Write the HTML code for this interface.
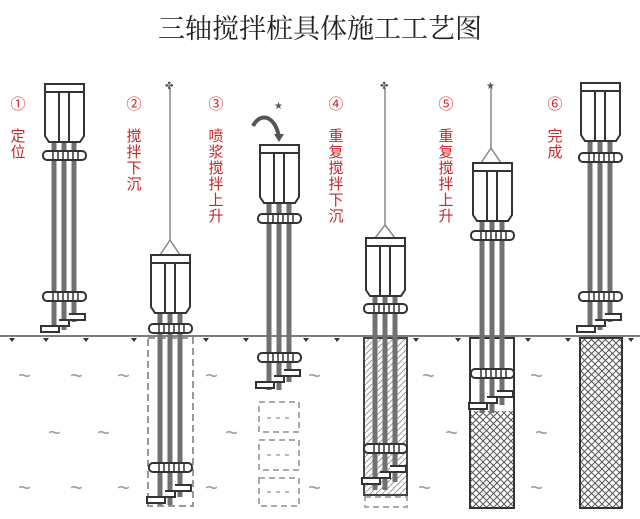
<!DOCTYPE html>
<html><head><meta charset="utf-8"><style>
html,body{margin:0;padding:0;background:#fff;width:640px;height:519px;overflow:hidden}
</style></head><body>
<svg width="640" height="519" viewBox="0 0 640 519" xmlns="http://www.w3.org/2000/svg">
<defs>
<pattern id="xh" width="7" height="7" patternUnits="userSpaceOnUse">
<path d="M0,0 L7,7 M7,0 L0,7" stroke="#555" stroke-width="1"/>
</pattern>
<pattern id="hh" width="6" height="6" patternUnits="userSpaceOnUse">
<path d="M0,6 L6,0" stroke="#999" stroke-width="1"/>
</pattern>
<g id="head">
<path d="M0,8 L0,52 L4,58 L35,58 L39,52 L39,8 Z" fill="#fff" stroke="#333" stroke-width="2"/>
<rect x="0" y="0" width="39" height="8" fill="#fff" stroke="#333" stroke-width="2"/>
<line x1="14" y1="8" x2="14" y2="58" stroke="#333" stroke-width="2"/>
<line x1="24" y1="8" x2="24" y2="58" stroke="#333" stroke-width="2"/>
</g>
<g id="clamp">
<rect x="-2" y="-4" width="43" height="9" rx="4" fill="#fff" stroke="#333" stroke-width="2"/>
<path d="M8,-4 V5 M13,-4 V5 M18,-4 V5 M23,-4 V5 M28,-4 V5 M33,-4 V5" stroke="#333" stroke-width="1.5"/>
</g>
<g id="bits">
<path d="M-4,30 H14 V36 H-4 Z M14,24 H24 V30 H14 M24,18 H40 V24 H24" fill="#fff" stroke="#333" stroke-width="2"/>
</g>
</defs>

<text x="320" y="38" text-anchor="middle" font-family="'Noto Serif CJK SC','Liberation Serif',serif" font-size="27" fill="#222">三轴搅拌桩具体施工工艺图</text>

<line x1="0" y1="336" x2="640" y2="336" stroke="#555" stroke-width="1.5"/>
<g fill="#333">
<path d="M9,338 l6,0 l-3,4z M43,338 l6,0 l-3,4z M83,338 l6,0 l-3,4z M131,338 l6,0 l-3,4z M203,338 l6,0 l-3,4z M243,338 l6,0 l-3,4z M303,338 l6,0 l-3,4z M334,338 l6,0 l-3,4z M413,338 l6,0 l-3,4z M455,338 l6,0 l-3,4z M525,338 l6,0 l-3,4z M565,338 l6,0 l-3,4z M628,338 l6,0 l-3,4z"/>
</g>
<g font-family="'Liberation Sans',sans-serif" font-size="22" fill="#999">
<text x="18" y="383">~</text><text x="70" y="383">~</text><text x="117" y="383">~</text><text x="205" y="383">~</text><text x="308" y="383">~</text><text x="422" y="383">~</text><text x="530" y="383">~</text>
<text x="48" y="440">~</text><text x="97" y="440">~</text><text x="225" y="440">~</text><text x="445" y="440">~</text><text x="535" y="440">~</text>
<text x="18" y="495">~</text><text x="70" y="495">~</text><text x="117" y="495">~</text><text x="205" y="495">~</text><text x="308" y="495">~</text><text x="418" y="495">~</text><text x="530" y="495">~</text>
</g>

<rect x="148" y="338" width="45" height="168" fill="none" stroke="#999" stroke-width="2" stroke-dasharray="7,4"/>
<g stroke="#aaa" stroke-width="2" fill="none" stroke-dasharray="6,4">
<rect x="259" y="402" width="40" height="30"/><rect x="259" y="440" width="40" height="30"/><rect x="259" y="478" width="40" height="28"/>
<rect x="365" y="497" width="42" height="10"/>
</g>
<g stroke="#bbb" stroke-width="2" stroke-dasharray="4,5"><path d="M267,418 H292 M267,455 H292 M267,492 H292"/></g>
<rect x="364" y="338" width="43" height="157" fill="url(#hh)" stroke="#444" stroke-width="2"/>
<rect x="470" y="338" width="44" height="170" fill="url(#xh)" stroke="#333" stroke-width="2"/>
<rect x="471" y="339" width="42" height="72" fill="#fff"/>
<line x1="470" y1="338" x2="470" y2="508" stroke="#333" stroke-width="2"/>
<line x1="514" y1="338" x2="514" y2="508" stroke="#333" stroke-width="2"/>
<rect x="580" y="338" width="42" height="170" fill="url(#xh)" stroke="#333" stroke-width="2"/>

<g stroke="#888" stroke-width="1.5" fill="none">
<path d="M170,88 V240 M170,240 L160,255 M170,240 L180,255"/>
<path d="M385,88 V225 M385,225 L375,238 M385,225 L395,238"/>
<path d="M491,88 V148 M491,148 L481,163 M491,148 L501,163"/>
</g>
<g fill="#555" font-size="10" font-family="'DejaVu Sans',sans-serif">
<text x="165" y="89">✤</text><text x="380" y="89">✤</text><text x="486" y="89">★</text><text x="274" y="109">★</text>
</g>
<path d="M253,126 C260,112 275,115 279,137" stroke="#555" stroke-width="4" fill="none"/>
<path d="M274,134 L284,134 L279,142 Z" fill="#555"/>

<g stroke="#707070" stroke-width="5">
<path d="M54,142 V330 M64,142 V330 M74,142 V322"/>
<path d="M160,313 V505 M170,313 V505 M180,313 V497"/>
<path d="M269,203 V390 M279,203 V390 M289,203 V382"/>
<path d="M375,296 V490 M385,296 V490 M395,296 V482"/>
<path d="M482,221 V413 M492,221 V413 M502,221 V405"/>
<path d="M590,141 V330 M600,141 V330 M610,141 V322"/>
</g>
<use href="#head" x="45" y="84"/><use href="#clamp" x="45" y="155"/><use href="#clamp" x="45" y="296"/><use href="#bits" x="45" y="296"/>
<use href="#head" x="151" y="255"/><use href="#clamp" x="151" y="328"/><use href="#clamp" x="151" y="467"/><use href="#bits" x="151" y="467"/>
<use href="#head" x="260" y="145"/><use href="#clamp" x="260" y="218"/><use href="#clamp" x="260" y="357"/><use href="#bits" x="260" y="352"/>
<use href="#head" x="366" y="238"/><use href="#clamp" x="366" y="308"/><use href="#clamp" x="366" y="448"/><use href="#bits" x="366" y="448"/>
<use href="#head" x="473" y="163"/><use href="#clamp" x="473" y="235"/><use href="#clamp" x="473" y="373"/><use href="#bits" x="473" y="373"/>
<use href="#head" x="581" y="83"/><use href="#clamp" x="581" y="157"/><use href="#clamp" x="581" y="296"/><use href="#bits" x="581" y="296"/>

<g fill="#c8282b" font-family="'Liberation Sans','Noto Sans CJK SC',sans-serif" font-size="15" text-anchor="middle">
<text x="18" y="109">①</text>
<text x="18" y="141">定</text><text x="18" y="157">位</text>
<text x="134" y="109">②</text>
<text x="134" y="141">搅</text><text x="134" y="157">拌</text><text x="134" y="173">下</text><text x="134" y="189">沉</text>
<text x="216" y="109">③</text>
<text x="216" y="141">喷</text><text x="216" y="157">浆</text><text x="216" y="173">搅</text><text x="216" y="189">拌</text><text x="216" y="205">上</text><text x="216" y="221">升</text>
<text x="336" y="109">④</text>
<text x="336" y="141">重</text><text x="336" y="157">复</text><text x="336" y="173">搅</text><text x="336" y="189">拌</text><text x="336" y="205">下</text><text x="336" y="221">沉</text>
<text x="446" y="109">⑤</text>
<text x="446" y="141">重</text><text x="446" y="157">复</text><text x="446" y="173">搅</text><text x="446" y="189">拌</text><text x="446" y="205">上</text><text x="446" y="221">升</text>
<text x="555" y="109">⑥</text>
<text x="555" y="141">完</text><text x="555" y="157">成</text>
</g>
</svg>
</body></html>
